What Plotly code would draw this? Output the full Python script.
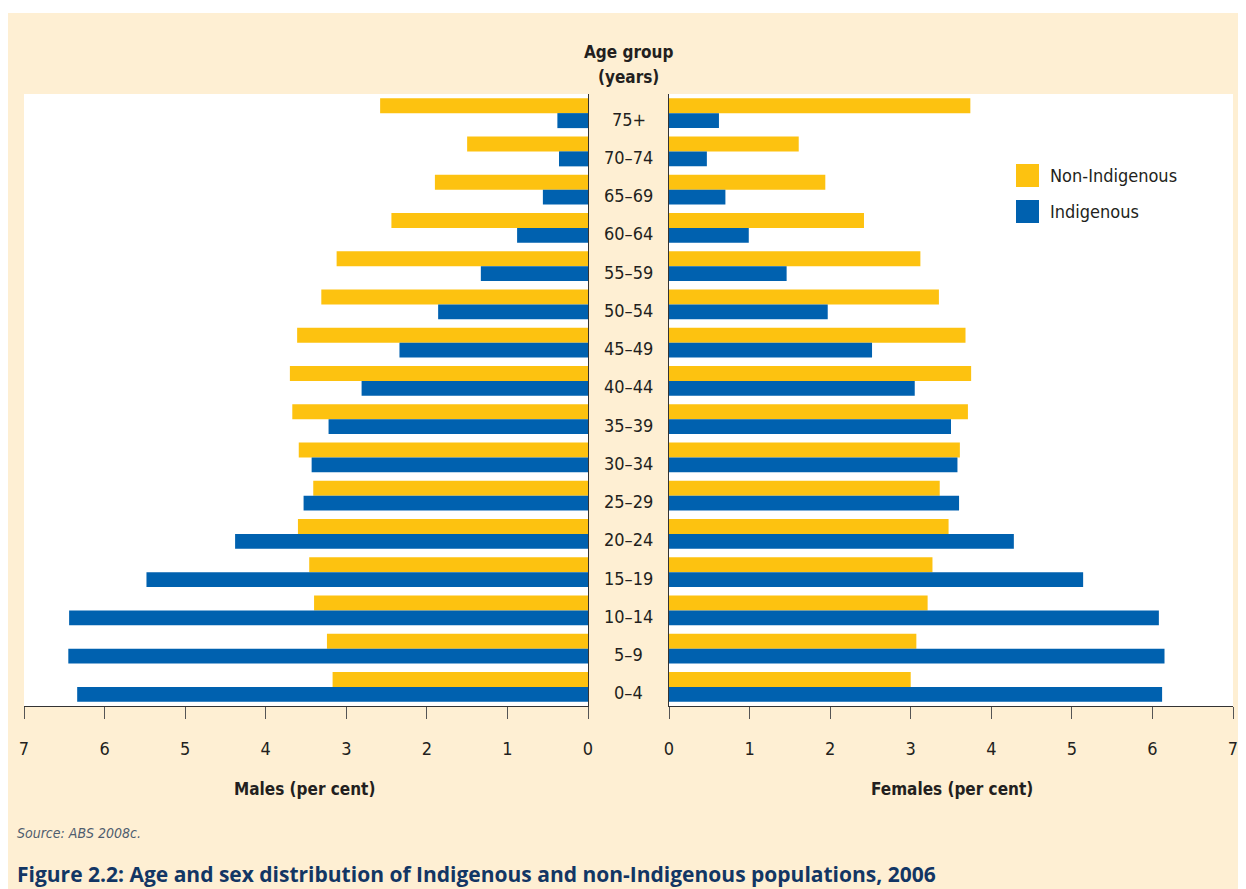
import plotly.graph_objects as go

# ---------------- data ----------------
age_groups = ["0–4", "5–9", "10–14", "15–19", "20–24", "25–29", "30–34", "35–39",
              "40–44", "45–49", "50–54", "55–59", "60–64", "65–69", "70–74", "75+"]
male_non_indigenous = [3.17, 3.24, 3.40, 3.46, 3.60, 3.41, 3.59, 3.67,
                       3.70, 3.61, 3.31, 3.12, 2.44, 1.90, 1.50, 2.58]
male_indigenous = [6.34, 6.45, 6.44, 5.48, 4.38, 3.53, 3.43, 3.22,
                   2.81, 2.34, 1.86, 1.33, 0.88, 0.56, 0.36, 0.38]
female_non_indigenous = [3.00, 3.07, 3.21, 3.27, 3.47, 3.36, 3.61, 3.71,
                         3.75, 3.68, 3.35, 3.12, 2.42, 1.94, 1.61, 3.74]
female_indigenous = [6.12, 6.15, 6.08, 5.14, 4.28, 3.60, 3.58, 3.50,
                     3.05, 2.52, 1.97, 1.46, 0.99, 0.70, 0.47, 0.62]
x_ticks = [0, 1, 2, 3, 4, 5, 6, 7]
series_names = ["Non-Indigenous", "Indigenous"]

# ---------------- style ----------------
OFF = 8                      # page body margin
W, H = 1246 - OFF, 889 - OFF
YELLOW = "#FDC210"
BLUE = "#0061AF"
CREAM = "#FEEFD3"
TEXT = "#231F20"
NARROW = ("Noto Sans ExtraCondensed, Noto Sans Condensed, Liberation Sans Narrow, "
          "DejaVu Sans Condensed, sans-serif")
BAR_W = 0.392


def px_x(x):
    return (x - OFF) / W


def px_y(y):
    return 1 - (y - OFF) / H


fig = go.Figure()

# left (males)
fig.add_trace(go.Bar(y=age_groups, x=male_non_indigenous, orientation="h",
                     name=series_names[0], marker=dict(color=YELLOW, line=dict(width=0)),
                     width=BAR_W, offset=0, xaxis="x", yaxis="y", showlegend=False))
fig.add_trace(go.Bar(y=age_groups, x=male_indigenous, orientation="h",
                     name=series_names[1], marker=dict(color=BLUE, line=dict(width=0)),
                     width=BAR_W, offset=-BAR_W, xaxis="x", yaxis="y", showlegend=False))
# right (females)
fig.add_trace(go.Bar(y=age_groups, x=female_non_indigenous, orientation="h",
                     name=series_names[0], marker=dict(color=YELLOW, line=dict(width=0)),
                     width=BAR_W, offset=0, xaxis="x2", yaxis="y2", showlegend=False))
fig.add_trace(go.Bar(y=age_groups, x=female_indigenous, orientation="h",
                     name=series_names[1], marker=dict(color=BLUE, line=dict(width=0)),
                     width=BAR_W, offset=-BAR_W, xaxis="x2", yaxis="y2", showlegend=False))

ydom = [px_y(706), px_y(94)]
xaxis_common = dict(
    tickvals=x_ticks, ticktext=[str(v) for v in x_ticks],
    ticks="outside", ticklen=12, tickcolor="#555555", tickwidth=1,
    showline=True, linecolor="#333333", linewidth=1,
    showgrid=False, zeroline=False, fixedrange=True,
    tickfont=dict(family=NARROW, size=18, color=TEXT),
    ticklabelstandoff=14, automargin=False,
)
yaxis_common = dict(
    type="category", categoryorder="array", categoryarray=age_groups,
    range=[-0.5, len(age_groups) - 0.5], domain=ydom,
    showticklabels=False, ticks="", showgrid=False, zeroline=False,
    showline=True, linecolor="#333333", linewidth=1, fixedrange=True,
    automargin=False,
)

fig.update_layout(
    width=W, height=H,
    margin=dict(l=0, r=0, t=0, b=0, pad=0),
    paper_bgcolor=CREAM, plot_bgcolor="white",
    barmode="overlay",
    xaxis=dict(domain=[px_x(24), px_x(588)], range=[7, 0], anchor="y", **xaxis_common),
    xaxis2=dict(domain=[px_x(669), px_x(1233)], range=[0, 7], anchor="y2", **xaxis_common),
    yaxis=dict(anchor="x", side="right", **yaxis_common),
    yaxis2=dict(anchor="x2", side="left", **yaxis_common),
    showlegend=False,
)

shapes = [
    # white page strip above the cream panel
    dict(type="rect", xref="paper", yref="paper", x0=0, x1=1, y0=px_y(13), y1=1,
         fillcolor="white", line=dict(width=0), layer="below"),
    # legend swatches
    dict(type="rect", xref="paper", yref="paper", x0=px_x(1016), x1=px_x(1039),
         y0=px_y(187), y1=px_y(164), fillcolor=YELLOW, line=dict(width=0)),
    dict(type="rect", xref="paper", yref="paper", x0=px_x(1016), x1=px_x(1039),
         y0=px_y(223), y1=px_y(200), fillcolor=BLUE, line=dict(width=0)),
]
fig.update_layout(shapes=shapes)

ann = []
# age-group labels in the central column
for g in age_groups:
    ann.append(dict(x=px_x(628.5), xref="paper", y=g, yref="y", text=g, showarrow=False,
                    xanchor="center", yanchor="middle", yshift=-6,
                    font=dict(family=NARROW, size=18, color=TEXT)))
ann += [
    dict(x=px_x(628.5), xref="paper", y=px_y(52), yref="paper",
         text="<b>Age group</b>", showarrow=False,
         xanchor="center", yanchor="middle",
         font=dict(family=NARROW, size=17, color=TEXT)),
    dict(x=px_x(628.5), xref="paper", y=px_y(77), yref="paper",
         text="<b>(years)</b>", showarrow=False,
         xanchor="center", yanchor="middle",
         font=dict(family=NARROW, size=17, color=TEXT)),
    dict(x=px_x(304), xref="paper", y=px_y(789), yref="paper",
         text="<b>Males (per cent)</b>", showarrow=False, xanchor="center", yanchor="middle",
         font=dict(family=NARROW, size=17, color=TEXT)),
    dict(x=px_x(952), xref="paper", y=px_y(789), yref="paper",
         text="<b>Females (per cent)</b>", showarrow=False, xanchor="center", yanchor="middle",
         font=dict(family=NARROW, size=17, color=TEXT)),
    dict(x=px_x(1048), xref="paper", y=px_y(175.5), yref="paper", text=series_names[0],
         showarrow=False, xanchor="left", yanchor="middle",
         font=dict(family=NARROW, size=18, color=TEXT)),
    dict(x=px_x(1048), xref="paper", y=px_y(211.5), yref="paper", text=series_names[1],
         showarrow=False, xanchor="left", yanchor="middle",
         font=dict(family=NARROW, size=18, color=TEXT)),
    dict(x=px_x(15), xref="paper", y=px_y(833), yref="paper", text="<i>Source: ABS 2008c.</i>",
         showarrow=False, xanchor="left", yanchor="middle",
         font=dict(family=NARROW, size=14, color="#4F5D6E")),
    dict(x=px_x(15), xref="paper", y=px_y(874), yref="paper",
         text="<b>Figure 2.2: Age and sex distribution of Indigenous and non-Indigenous populations, 2006</b>",
         showarrow=False, xanchor="left", yanchor="middle",
         font=dict(family="Open Sans, sans-serif", size=21, color="#123664")),
]
fig.update_layout(annotations=ann)

fig.write_html("out.html")
